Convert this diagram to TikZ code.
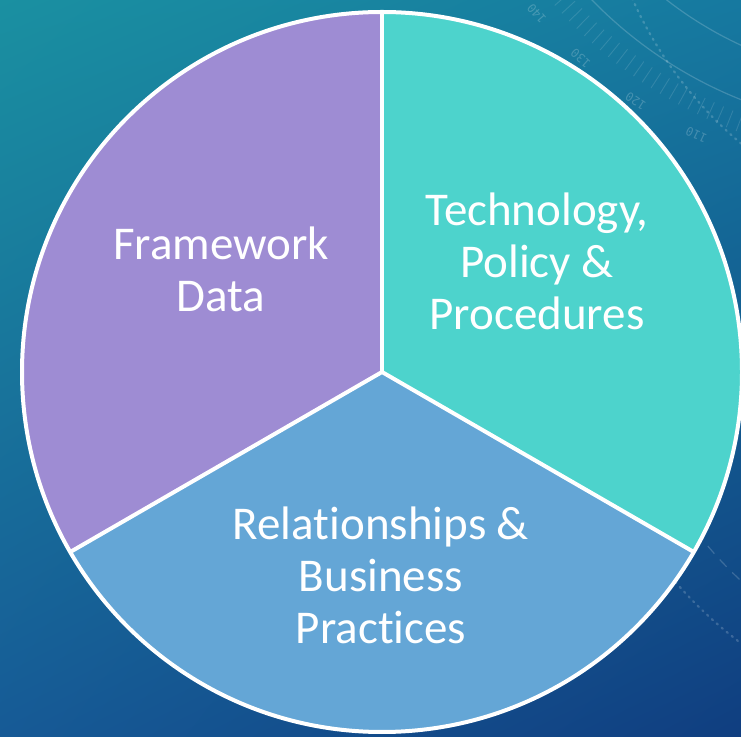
\documentclass[tikz,border=0pt]{standalone}
\usepackage{fontspec}
\setmainfont{Carlito}[Ligatures=NoCommon]
\setmonofont{DejaVu Sans Mono}
\usetikzlibrary{shadings,calc}
\definecolor{bgTL}{HTML}{1A90A1}
\definecolor{bgTR}{HTML}{1679A0}
\definecolor{bgBL}{HTML}{165A96}
\definecolor{bgBR}{HTML}{103E80}
\definecolor{wedgePurple}{HTML}{9E8CD3}
\definecolor{wedgeTeal}{HTML}{4DD3CC}
\definecolor{wedgeBlue}{HTML}{64A6D6}
\tikzset{
  wedge/.style={draw=white, line width=4, line join=round},
  label text/.style={text=white, align=center, inner sep=0pt,
    font=\fontsize{47}{52}\selectfont},
  deco/.style={draw=white, opacity=0.18, line width=1.2},
  dial num/.style={text=white, opacity=0.2, inner sep=0pt,
    font=\ttfamily\fontsize{12}{12}\selectfont}
}
\begin{document}
\begin{tikzpicture}[x=1pt,y=1pt]
\useasboundingbox (0,0) rectangle (741,736);
\begin{scope}
\clip (0,0) rectangle (741,736);
\shade[upper left=bgTL, upper right=bgTR, lower left=bgBL, lower right=bgBR]
  (0,0) rectangle (741,736);
% faint dial decorations
\coordinate (dial) at (900,1036);
\draw[deco] (dial) circle[radius=430];
\draw[deco] (dial) circle[radius=380];
\draw[draw=white, opacity=0.12, line width=18, dash pattern=on 0.9 off 9.5] (dial) circle[radius=452];
\draw[deco, line width=2.2, dash pattern=on 1.5 off 5, line cap=round] (1000,900) circle[radius=402];
\draw[deco, dash pattern=on 10 off 8] (1000,436) ++(212:382) arc[start angle=212, end angle=236, radius=382];
\draw[deco, line width=2.2, dash pattern=on 1.5 off 5, line cap=round] (1000,436) ++(208:430) arc[start angle=208, end angle=240, radius=430];
\node[dial num, rotate=130.8] (n140) at ($(dial)+(220.8:480)$) {140};
\node[dial num, rotate=138.3] (n130) at ($(dial)+(228.3:480)$) {130};
\node[dial num, rotate=146.6] (n120) at ($(dial)+(236.6:480)$) {120};
\node[dial num, rotate=154.9] (n110) at ($(dial)+(244.9:480)$) {110};
\end{scope}
% pie
\coordinate (c) at (382,364);
\fill[wedgePurple] (c) -- ++(90:360) arc[start angle=90, end angle=210, radius=360] -- cycle;
\fill[wedgeTeal] (c) -- ++(-30:360) arc[start angle=-30, end angle=90, radius=360] -- cycle;
\fill[wedgeBlue] (c) -- ++(210:360) arc[start angle=210, end angle=330, radius=360] -- cycle;
\draw[wedge] (c) circle[radius=360];
\draw[wedge] (c) -- ++(90:360);
\draw[wedge] (c) -- ++(210:360);
\draw[wedge] (c) -- ++(330:360);
% labels
\node[label text] (tech) at (537,475) {Technology,\\Policy \&\\Procedures};
\node[label text] (frame) at (221,467) {Framework\\Data};
\node[label text] (rel) at (381,161) {Relationships \&\\Business\\Practices};
\end{tikzpicture}
\end{document}
